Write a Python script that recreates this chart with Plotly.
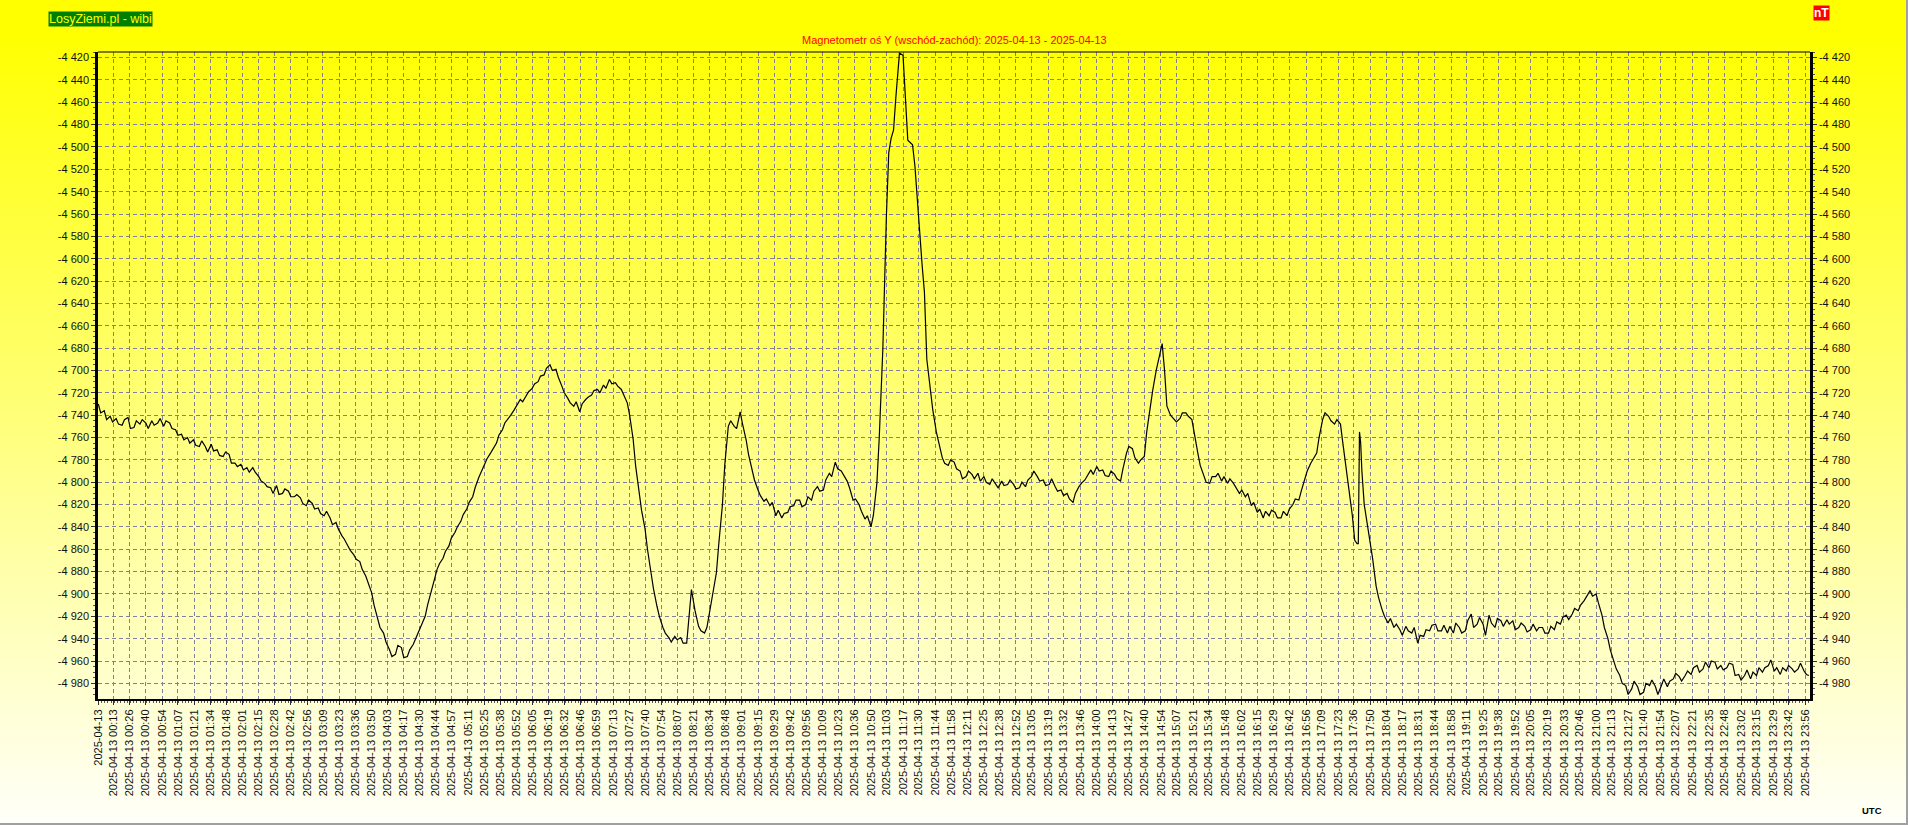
import datetime as dt
import plotly.graph_objects as go

# ---------------- data ----------------
BASE = dt.datetime(2025, 4, 13)

minutes = [0, 2, 5, 7, 10, 12, 15, 17, 20, 22, 25, 27, 30, 32, 35, 37, 40, 42, 45, 47, 50, 52, 55, 57, 60, 62, 65, 67, 70, 72, 75, 77, 80, 82, 85, 87, 90, 92, 95, 97, 100, 102, 105, 107, 110, 112, 115, 117, 120, 122, 125, 127, 130, 132, 135, 137, 140, 142, 145, 147, 150, 152, 155, 157, 160, 162, 165, 167, 170, 172, 175, 177, 180, 182, 185, 187, 190, 192, 195, 197, 200, 202, 205, 207, 210, 212, 215, 217, 220, 222, 225, 227, 230, 232, 235, 237, 240, 242, 245, 247, 250, 252, 255, 257, 260, 262, 265, 267, 270, 272, 275, 277, 280, 282, 285, 287, 290, 292, 295, 297, 300, 302, 305, 307, 310, 312, 315, 317, 320, 322, 325, 327, 330, 332, 335, 337, 340, 342, 345, 347, 350, 352, 355, 357, 360, 362, 365, 367, 370, 372, 375, 377, 380, 382, 385, 387, 390, 392, 395, 397, 400, 402, 405, 407, 410, 412, 415, 417, 420, 422, 425, 427, 430, 432, 435, 437, 440, 442, 445, 447, 450, 452, 455, 457, 460, 462, 465, 467, 470, 472, 475, 477, 480, 482, 485, 487, 490, 492, 495, 497, 499, 502, 505, 507, 510, 512, 515, 517, 520, 522, 525, 527, 530, 532, 535, 537, 540, 542, 545, 547, 550, 552, 555, 557, 560, 562, 565, 567, 570, 572, 575, 577, 580, 582, 585, 587, 590, 592, 595, 597, 600, 602, 605, 607, 610, 612, 615, 617, 620, 622, 625, 627, 630, 632, 635, 637, 640, 642, 645, 647, 650, 652, 655, 657, 660, 663, 665, 667, 669, 671, 674, 677, 679, 681, 683, 685, 687, 690, 693, 695, 697, 700, 702, 705, 707, 710, 712, 715, 717, 720, 722, 725, 727, 730, 732, 735, 737, 740, 742, 745, 747, 750, 752, 755, 757, 760, 762, 765, 767, 770, 772, 775, 777, 780, 782, 785, 787, 790, 792, 795, 797, 800, 802, 805, 807, 810, 812, 815, 817, 820, 822, 825, 827, 830, 832, 835, 837, 840, 842, 845, 847, 850, 852, 855, 857, 860, 862, 865, 867, 870, 872, 875, 877, 880, 882, 885, 887, 890, 892, 895, 897, 899, 902, 905, 907, 910, 912, 915, 917, 920, 922, 925, 927, 930, 932, 935, 937, 940, 942, 945, 947, 950, 952, 955, 957, 960, 962, 965, 967, 970, 972, 975, 977, 980, 982, 985, 987, 990, 992, 995, 997, 1000, 1002, 1005, 1007, 1010, 1012, 1015, 1017, 1020, 1022, 1025, 1027, 1030, 1032, 1035, 1037, 1040, 1042, 1045, 1047, 1050, 1052, 1055, 1057, 1059, 1060, 1061, 1062, 1063, 1065, 1067, 1070, 1072, 1075, 1077, 1080, 1082, 1085, 1087, 1090, 1092, 1095, 1097, 1100, 1102, 1105, 1107, 1110, 1112, 1115, 1117, 1120, 1122, 1125, 1127, 1130, 1132, 1135, 1137, 1140, 1142, 1145, 1147, 1150, 1152, 1155, 1157, 1160, 1162, 1165, 1167, 1170, 1172, 1175, 1177, 1180, 1182, 1185, 1187, 1190, 1192, 1195, 1197, 1200, 1202, 1205, 1207, 1210, 1212, 1215, 1217, 1220, 1222, 1225, 1227, 1230, 1232, 1235, 1237, 1240, 1242, 1245, 1247, 1250, 1252, 1255, 1257, 1260, 1262, 1265, 1267, 1270, 1272, 1275, 1277, 1280, 1282, 1285, 1287, 1290, 1292, 1295, 1297, 1300, 1302, 1305, 1307, 1310, 1312, 1315, 1317, 1320, 1322, 1325, 1327, 1330, 1332, 1335, 1337, 1340, 1342, 1345, 1347, 1350, 1352, 1355, 1357, 1360, 1362, 1365, 1367, 1370, 1372, 1375, 1377, 1380, 1382, 1385, 1387, 1390, 1392, 1395, 1397, 1400, 1402, 1405, 1407, 1410, 1412, 1415, 1417, 1420, 1422, 1425, 1427, 1430, 1432, 1435, 1437, 1439]

values = [-4730, -4738, -4736, -4744, -4741, -4746, -4743, -4748, -4749, -4744, -4742, -4752, -4751, -4745, -4748, -4744, -4747, -4752, -4745, -4749, -4747, -4743, -4750, -4745, -4747, -4752, -4753, -4758, -4757, -4762, -4760, -4765, -4762, -4767, -4768, -4763, -4768, -4773, -4766, -4772, -4771, -4776, -4777, -4773, -4775, -4783, -4783, -4786, -4784, -4789, -4787, -4791, -4787, -4791, -4795, -4799, -4801, -4804, -4805, -4810, -4803, -4811, -4810, -4806, -4808, -4813, -4813, -4811, -4814, -4819, -4821, -4816, -4819, -4824, -4823, -4828, -4830, -4826, -4832, -4838, -4836, -4842, -4848, -4851, -4857, -4861, -4865, -4869, -4871, -4878, -4884, -4890, -4899, -4910, -4923, -4930, -4935, -4943, -4950, -4956, -4954, -4946, -4948, -4957, -4956, -4950, -4945, -4940, -4932, -4927, -4920, -4910, -4899, -4890, -4878, -4873, -4868, -4862, -4857, -4850, -4845, -4840, -4835, -4829, -4824, -4818, -4813, -4805, -4796, -4791, -4784, -4779, -4774, -4770, -4765, -4758, -4753, -4747, -4743, -4740, -4735, -4731, -4726, -4728, -4723, -4719, -4716, -4712, -4710, -4705, -4704, -4698, -4695, -4700, -4699, -4706, -4714, -4720, -4725, -4729, -4732, -4728, -4737, -4730, -4726, -4724, -4722, -4718, -4717, -4720, -4713, -4716, -4708, -4712, -4711, -4714, -4717, -4722, -4729, -4740, -4762, -4785, -4810, -4825, -4842, -4860, -4881, -4895, -4911, -4920, -4930, -4935, -4939, -4943, -4938, -4941, -4939, -4944, -4944, -4920, -4896, -4915, -4929, -4933, -4935, -4930, -4911, -4900, -4881, -4855, -4821, -4785, -4750, -4745, -4750, -4752, -4737, -4748, -4762, -4775, -4789, -4798, -4807, -4812, -4817, -4815, -4821, -4818, -4830, -4825, -4832, -4828, -4827, -4822, -4821, -4816, -4816, -4822, -4820, -4813, -4816, -4808, -4804, -4808, -4807, -4798, -4792, -4795, -4782, -4788, -4790, -4794, -4799, -4805, -4816, -4815, -4820, -4826, -4833, -4830, -4840, -4830, -4801, -4760, -4681, -4562, -4505, -4492, -4485, -4455, -4416, -4418, -4458, -4494, -4496, -4498, -4517, -4565, -4605, -4630, -4690, -4717, -4735, -4755, -4765, -4778, -4783, -4785, -4780, -4782, -4788, -4790, -4797, -4795, -4790, -4793, -4797, -4792, -4799, -4795, -4800, -4802, -4797, -4802, -4805, -4799, -4803, -4802, -4798, -4802, -4806, -4805, -4800, -4804, -4798, -4795, -4790, -4795, -4799, -4798, -4803, -4802, -4797, -4804, -4808, -4807, -4812, -4810, -4815, -4818, -4810, -4804, -4801, -4798, -4794, -4789, -4793, -4786, -4790, -4789, -4794, -4795, -4790, -4793, -4797, -4799, -4788, -4774, -4768, -4770, -4778, -4783, -4780, -4777, -4755, -4732, -4718, -4700, -4690, -4676, -4700, -4732, -4740, -4744, -4746, -4743, -4738, -4738, -4741, -4744, -4757, -4774, -4785, -4795, -4800, -4801, -4795, -4795, -4792, -4799, -4795, -4801, -4797, -4801, -4805, -4810, -4807, -4813, -4810, -4821, -4818, -4827, -4824, -4832, -4826, -4830, -4825, -4827, -4832, -4832, -4826, -4830, -4824, -4820, -4815, -4816, -4808, -4798, -4790, -4783, -4779, -4774, -4760, -4744, -4738, -4741, -4745, -4748, -4744, -4748, -4765, -4789, -4805, -4830, -4852, -4855, -4855, -4755, -4765, -4790, -4820, -4834, -4851, -4868, -4893, -4903, -4914, -4920, -4926, -4922, -4930, -4927, -4932, -4937, -4929, -4933, -4935, -4930, -4944, -4937, -4938, -4932, -4933, -4928, -4927, -4933, -4933, -4928, -4935, -4929, -4935, -4926, -4930, -4935, -4933, -4924, -4918, -4930, -4927, -4921, -4927, -4937, -4919, -4926, -4930, -4922, -4924, -4929, -4923, -4927, -4924, -4932, -4930, -4926, -4929, -4934, -4932, -4927, -4933, -4930, -4930, -4935, -4935, -4929, -4932, -4925, -4927, -4921, -4919, -4923, -4918, -4913, -4915, -4910, -4906, -4902, -4897, -4902, -4900, -4908, -4919, -4930, -4940, -4950, -4960, -4967, -4973, -4980, -4982, -4990, -4985, -4978, -4983, -4990, -4988, -4980, -4982, -4977, -4983, -4990, -4982, -4976, -4983, -4978, -4976, -4971, -4974, -4978, -4973, -4969, -4972, -4966, -4964, -4970, -4967, -4961, -4966, -4960, -4961, -4967, -4964, -4968, -4966, -4962, -4963, -4973, -4972, -4977, -4973, -4968, -4976, -4970, -4973, -4966, -4970, -4966, -4964, -4959, -4969, -4966, -4972, -4966, -4969, -4964, -4967, -4970, -4967, -4962, -4969, -4972, -4973]

tick_labels = ["2025-04-13"] + ["2025-04-13 " + t for t in [
    "00:13", "00:26", "00:40", "00:54", "01:07", "01:21", "01:34", "01:48", "02:01", "02:15",
    "02:28", "02:42", "02:56", "03:09", "03:23", "03:36", "03:50", "04:03", "04:17", "04:30",
    "04:44", "04:57", "05:11", "05:25", "05:38", "05:52", "06:05", "06:19", "06:32", "06:46",
    "06:59", "07:13", "07:27", "07:40", "07:54", "08:07", "08:21", "08:34", "08:48", "09:01",
    "09:15", "09:29", "09:42", "09:56", "10:09", "10:23", "10:36", "10:50", "11:03", "11:17",
    "11:30", "11:44", "11:58", "12:11", "12:25", "12:38", "12:52", "13:05", "13:19", "13:32",
    "13:46", "14:00", "14:13", "14:27", "14:40", "14:54", "15:07", "15:21", "15:34", "15:48",
    "16:02", "16:15", "16:29", "16:42", "16:56", "17:09", "17:23", "17:36", "17:50", "18:04",
    "18:17", "18:31", "18:44", "18:58", "19:11", "19:25", "19:38", "19:52", "20:05", "20:19",
    "20:33", "20:46", "21:00", "21:13", "21:27", "21:40", "21:54", "22:07", "22:21", "22:35",
    "22:48", "23:02", "23:15", "23:29", "23:42", "23:56"]]

y_ticks = [-4420, -4440, -4460, -4480, -4500, -4520, -4540, -4560, -4580, -4600,
           -4620, -4640, -4660, -4680, -4700, -4720, -4740, -4760, -4780, -4800,
           -4820, -4840, -4860, -4880, -4900, -4920, -4940, -4960, -4980]
y_tick_labels = ["-4 420", "-4 440", "-4 460", "-4 480", "-4 500", "-4 520", "-4 540", "-4 560",
                 "-4 580", "-4 600", "-4 620", "-4 640", "-4 660", "-4 680", "-4 700", "-4 720",
                 "-4 740", "-4 760", "-4 780", "-4 800", "-4 820", "-4 840", "-4 860", "-4 880",
                 "-4 900", "-4 920", "-4 940", "-4 960", "-4 980"]

title_text = "Magnetometr oś Y (wschód-zachód): 2025-04-13 - 2025-04-13"
badge_text = "LosyZiemi.pl - wibi"
unit_text = "nT"
tz_text = "UTC"

# ---------------- geometry ----------------
W, H = 1908, 825
ML, MR, MT, MB = 98, 98, 52, 126
PW, PH = W - ML - MR, H - MT - MB


def px_x(px):
    return (px - ML) / PW


def px_y(py):
    return (H - MB - py) / PH


times = [BASE + dt.timedelta(minutes=m) for m in minutes]


def parse_label(s):
    if len(s) == 10:
        return dt.datetime.strptime(s, "%Y-%m-%d")
    return dt.datetime.strptime(s, "%Y-%m-%d %H:%M")


tick_vals = [parse_label(s) for s in tick_labels]

# ---------------- background gradient (horizontal bands) ----------------
BAND = 5
bg_shapes = []
for y0 in range(0, H, BAND):
    ym = y0 + BAND / 2
    t = min(1.0, max(0.0, (ym - 30) / (H - 30)))
    b = int(round(250 * t))
    bg_shapes.append(dict(type="rect", xref="paper", yref="paper", layer="below",
                          x0=px_x(0), x1=px_x(W), y0=px_y(min(H, y0 + BAND + 1)), y1=px_y(y0),
                          fillcolor=f"rgb(255,255,{b})", line=dict(width=0)))

FONT = "Liberation Sans, Arial, sans-serif"
GRID = "#80809a"

fig = go.Figure()
fig.add_trace(go.Scatter(x=times, y=values, mode="lines",
                         line=dict(color="black", width=1.2), hoverinfo="x+y",
                         showlegend=False))
fig.add_trace(go.Scatter(x=times, y=values, mode="lines", yaxis="y2",
                         line=dict(color="rgba(0,0,0,0)", width=0), hoverinfo="skip",
                         showlegend=False))

x_range = [BASE - dt.timedelta(minutes=0.25), BASE + dt.timedelta(minutes=1440)]
y_range = [-4994, -4415]

yaxis_common = dict(
    range=y_range, tickmode="array", tickvals=y_ticks, ticktext=y_tick_labels,
    ticks="outside", ticklen=4, tickwidth=1, tickcolor="#333",
    tickfont=dict(family=FONT, size=11, color="#111"),
    showline=True, linewidth=2.5, linecolor="black",
    zeroline=False,
    minor=dict(ticks="outside", ticklen=2, tickcolor="#555", dtick=5, tick0=-4420, showgrid=False),
)

fig.update_layout(
    width=W, height=H,
    margin=dict(l=ML, r=MR, t=MT, b=MB, pad=0),
    paper_bgcolor="#ffff00",
    plot_bgcolor="rgba(0,0,0,0)",
    showlegend=False,
    xaxis=dict(
        type="date", range=x_range, tickmode="array", tickvals=tick_vals, ticktext=tick_labels,
        tickangle=-90, ticks="outside", ticklen=4, tickcolor="#333",
        tickfont=dict(family=FONT, size=11, color="#111"),
        showgrid=True, gridcolor=GRID, gridwidth=1, griddash="4px,3px",
        showline=True, linewidth=2, linecolor="black", zeroline=False,
        minor=dict(ticks="outside", ticklen=2, tickcolor="#555",
                   tick0=BASE, dtick=162600, showgrid=False),
    ),
    yaxis=dict(side="left", showgrid=True, gridcolor=GRID, gridwidth=1, griddash="4px,3px",
               **yaxis_common),
    yaxis2=dict(side="right", overlaying="y", showgrid=False, **yaxis_common),
    shapes=bg_shapes + [
        dict(type="line", xref="paper", yref="paper", x0=0, x1=1, y0=1, y1=1,
             line=dict(color="black", width=1)),
        dict(type="line", xref="paper", yref="paper", x0=px_x(0), x1=px_x(W), y0=px_y(H - 1), y1=px_y(H - 1),
             line=dict(color="#a0a0a0", width=2)),
        dict(type="line", xref="paper", yref="paper", x0=px_x(W - 1), x1=px_x(W - 1), y0=px_y(0), y1=px_y(H),
             line=dict(color="#a0a0a0", width=2)),
    ],
    annotations=[
        dict(text=title_text, xref="paper", yref="paper", x=px_x(W / 2), y=px_y(40),
             xanchor="center", yanchor="middle", showarrow=False,
             font=dict(family=FONT, size=11, color="#ff0000")),
        dict(text=badge_text, xref="paper", yref="paper", x=px_x(48), y=px_y(11),
             xanchor="left", yanchor="top", showarrow=False, bgcolor="#008000",
             borderpad=0, font=dict(family=FONT, size=12.5, color="#ffff00")),
        dict(text="<b>" + unit_text + "</b>", xref="paper", yref="paper", x=px_x(1813), y=px_y(5),
             xanchor="left", yanchor="top", showarrow=False, bgcolor="#ff0000",
             borderpad=0, font=dict(family=FONT, size=12, color="#ffffff")),
        dict(text="<b>" + tz_text + "</b>", xref="paper", yref="paper", x=px_x(1872), y=px_y(811),
             xanchor="center", yanchor="middle", showarrow=False,
             font=dict(family=FONT, size=9.5, color="#000000")),
    ],
)

fig.write_html("out.html",
               config={"displayModeBar": False},
               post_script="document.body.style.margin='0';document.body.style.overflow='hidden';")
